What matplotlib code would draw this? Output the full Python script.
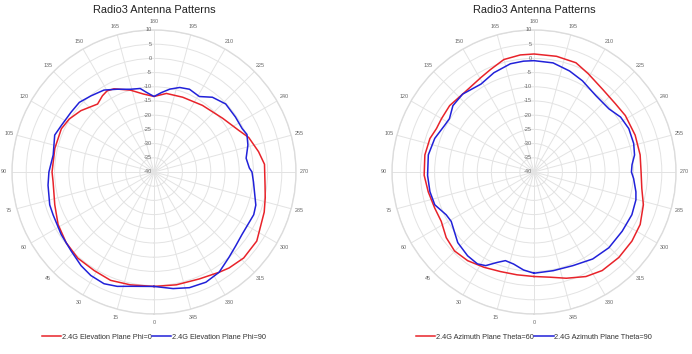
import numpy as np
import matplotlib
matplotlib.use("Agg")
import matplotlib.pyplot as plt

plt.rcParams['font.family'] = ['Liberation Sans', 'DejaVu Sans']

title = "Radio3 Antenna Patterns"
angle_ticks = list(range(0, 360, 15))
r_ticks = list(range(-40, 11, 5))

# Left chart: elevation planes
elev_phi0_ang = [0, 11.9, 21.8, 31.2, 41.5, 51.2, 61.3, 71.7, 84.4, 90, 103.4, 115, 122, 130, 140.3, 145.9,
                 150, 154.3, 163.9, 172.3, 180, 189, 201, 216, 232, 244, 250, 259, 266, 277, 283, 290,
                 303.9, 313.8, 322, 327, 337, 348.8]
elev_phi0_val = [0.3, 0.6, 1.1, 0.6, 0.5, -0.3, -1.5, -3.2, -4.3, -4.1, -4.1, -4.0, -4.8, -6.4, -8.9, -7.6,
                 -7.0, -7.5, -10.0, -12.3, -13.4, -12.0, -11.8, -11.0, -9.3, -6.7, -4.5, -2.5, -1.0, -0.6, 0.2, 1.3,
                 3.6, 3.75, 2.9, 2.1, 0.9, 0.5]

elev_phi90_ang = [0, 11.7, 17.8, 24.1, 31.4, 37.9, 46.4, 56, 67, 72.5, 82.9, 90, 99.6, 106, 110.4, 116.7,
                  125.8, 133, 140.4, 148.6, 156, 164, 170.6, 174.8, 180, 185.4, 190.8, 196.9, 203.2, 211,
                  218, 226.5, 236, 243.8, 248, 254, 261.5, 267.6, 270, 275.7, 288, 293.2, 305.3, 312.2,
                  318.7, 327, 334.8, 343, 350.7]
elev_phi90_val = [0.3, 1.1, 2.3, 3.1, 2.7, 1.8, 0.3, -0.6, -1.4, -1.5, -2.4, -3.0, -4.0, -3.4, -2.7, -3.5,
                  -4.0, -4.05, -5.2, -6.2, -8.1, -9.7, -10.2, -11.9, -13.4, -11.9, -10.3, -8.9, -8.3, -9.0,
                  -6.6, -5.2, -5.4, -5.4, -4.7, -5.6, -7.2, -6.4, -5.5, -4.8, -2.3, -1.8, -2.0, -1.2,
                  0.0, 2.1, 2.9, 2.6, 1.6]

# Right chart: azimuth planes
azim_th60_ang = [0, 9.4, 18.6, 27.7, 36.8, 45.2, 53.2, 62, 70, 79.4, 88.3, 98.9, 107.8, 114, 119.9, 128.2,
                 138.8, 150.6, 157, 165, 173.3, 180, 191, 201, 209, 220, 230, 238.3, 250, 260.8, 270,
                 278.7, 286.7, 296.3, 305.2, 315.2, 325.3, 333.6, 343.1, 351.5]
azim_th60_val = [-3.2, -3.3, -3.0, -2.1, -1.0, -0.55, -1.4, -3.0, -2.8, -2.1, -1.3, -1.1, -1.5, -2.4, -2.4, -2.2,
                 -2.8, -1.85, -0.8, 1.0, 1.5, 1.55, 1.5, 1.2, -0.5, -2.2, -2.6, -2.2, -2.1, -2.15, -2.3,
                 -1.6, 0.2, 1.7, 2.2, 2.4, 2.2, 1.1, -0.9, -2.55]

azim_th90_ang = [0, 6.1, 12.5, 17.9, 22.2, 27.3, 31.6, 38.4, 47.2, 59.2, 64, 71.7, 79.3, 88.2, 99.2, 108.7,
                 117.6, 122.2, 129.3, 137.5, 148.8, 158, 167.7, 174.6, 180, 189.9, 199.4, 208, 219, 229.9,
                 237.6, 245.4, 254, 260.4, 265.8, 270, 273.8, 281, 285.3, 293.6, 303.9, 315.3, 326, 337.5, 349]
azim_th90_val = [-4.35, -5.3, -6.8, -7.2, -5.6, -2.9, -2.0, -2.35, -3.4, -6.05, -5.6, -3.2, -2.7, -2.5, -2.3, -3.1,
                 -4.5, -4.8, -3.1, -2.8, -3.85, -2.3, -1.0, -0.8, -0.8, -1.0, -2.3, -3.65, -5.4, -5.5,
                 -3.9, -3.3, -3.5, -4.1, -5.4, -5.7, -4.85, -3.45, -2.8, -2.4, -2.6, -2.5, -3.05, -4.3, -4.6]

RED = '#e8232a'
BLUE = '#2121d9'
GRID = '#e3e3e3'
TXT = '#666666'

charts = [
    ([0.01734, 0.113, 0.4104, 0.8023],
     [(elev_phi0_ang, elev_phi0_val, RED, "2.4G Elevation Plane Phi=0"),
      (elev_phi90_ang, elev_phi90_val, BLUE, "2.4G Elevation Plane Phi=90")]),
    ([0.5665, 0.113, 0.4104, 0.8023],
     [(azim_th60_ang, azim_th60_val, RED, "2.4G Azimuth Plane Theta=60"),
      (azim_th90_ang, azim_th90_val, BLUE, "2.4G Azimuth Plane Theta=90")]),
]

fig = plt.figure(figsize=(6.92, 3.54), dpi=100)

for rect, series in charts:
    ax = fig.add_axes(rect, projection='polar')
    ax.set_theta_zero_location('S')
    ax.set_theta_direction(-1)
    ax.set_ylim(-40, 10)
    ax.set_yticks(r_ticks)
    ax.set_yticklabels([])
    ax.set_xticks(np.deg2rad(angle_ticks))
    ax.set_xticklabels([str(a) for a in angle_ticks], fontsize=3.9, color=TXT)
    ax.tick_params(axis='x', pad=-4.5)
    ax.grid(True, color=GRID, linewidth=0.7)
    ax.spines['polar'].set_color('#dcdcdc')
    ax.spines['polar'].set_linewidth(1.0)
    for r in r_ticks:
        ax.annotate(str(r), xy=(np.pi, r), xytext=(-1.5, 0), textcoords='offset points',
                    ha='right', va='center', fontsize=4.0, color=TXT)
    handles = []
    for ang, val, col, lab in series:
        a = np.deg2rad(np.array(ang + [ang[0]]))
        v = np.array(val + [val[0]])
        h, = ax.plot(a, v, color=col, linewidth=1.1, label=lab)
        handles.append(h)
    fig.text(rect[0] + rect[2] / 2, 0.972, title, fontsize=7.9, color='#222222',
             ha='center', va='center')
    ax.legend(handles=handles, loc='upper center', bbox_to_anchor=(0.5, -0.045), ncol=2, frameon=False,
              fontsize=5.3, handlelength=2.6, handletextpad=0.1, columnspacing=0.1, labelcolor='#333333')

fig.savefig('out.png', dpi=100)
